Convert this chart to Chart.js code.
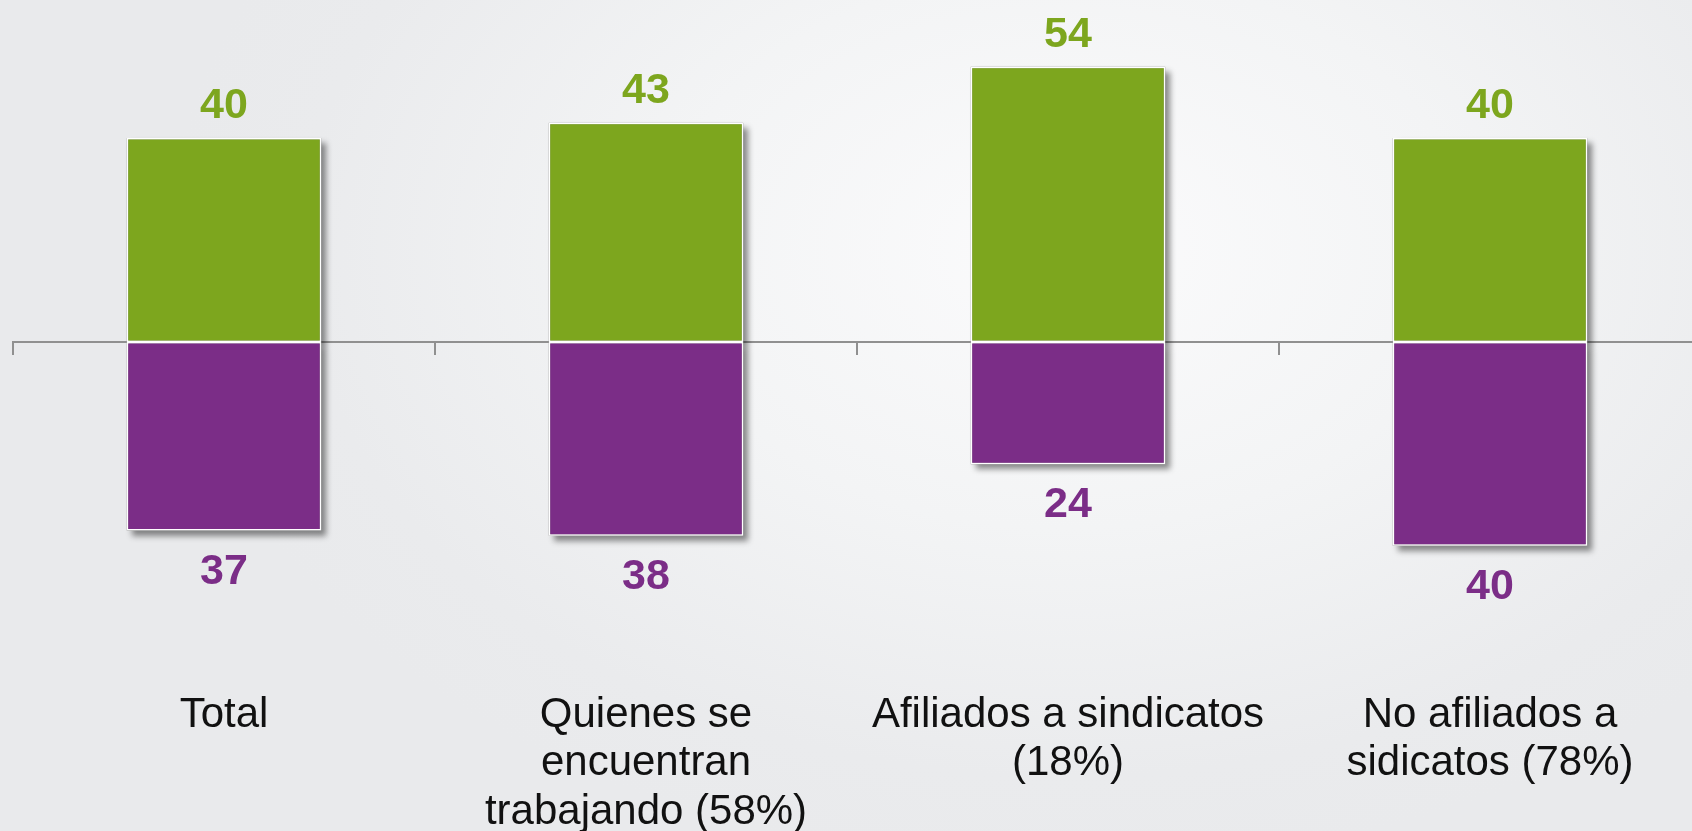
<!DOCTYPE html>
<html>
<head>
<meta charset="utf-8">
<script src="https://cdn.jsdelivr.net/npm/chart.js@4.4.0/dist/chart.umd.min.js"></script>
<style>
  html, body { margin:0; padding:0; width:1692px; height:831px; overflow:hidden; }
  body { background: radial-gradient(ellipse 900px 620px at 63% 30%, #fbfbfc 0%, #f3f4f5 45%, #eaebed 85%, #e9eaec 100%); }
  #wrap { position:absolute; left:0; top:0; width:1701px; height:869px; }
</style>
</head>
<body>
<div id="wrap"><canvas id="chart"></canvas></div>
<script>
const categories = [
  'Total',
  ['Quienes se', 'encuentran', 'trabajando (58%)'],
  ['Afiliados a sindicatos', '(18%)'],
  ['No afiliados a', 'sidicatos (78%)']
];
const arriba = [40, 43, 54, 40];   // green, above the line
const abajo = [37, 38, 24, 40];    // purple, below the line (shown as positive)

const green = '#7da61e';
const purple = '#7b2d87';

// soft drop shadow behind each bar
const barShadow = {
  id:'barShadow',
  beforeDatasetsDraw(chart){
    const ctx = chart.ctx;
    ctx.save();
    ctx.shadowColor = 'rgba(0,0,0,0.45)';
    ctx.shadowBlur = 6;
    ctx.shadowOffsetX = 5;
    ctx.shadowOffsetY = 5;
    ctx.fillStyle = '#999';
    chart.data.datasets.forEach((ds, i) => {
      chart.getDatasetMeta(i).data.forEach(el => {
        const p = el.getProps(['x','y','base','width'], true);
        const top = Math.min(p.y, p.base), h = Math.abs(p.y - p.base);
        ctx.fillRect(p.x - p.width / 2, top, p.width, h);
      });
    });
    ctx.restore();
  }
};

// value labels above green / below purple bars
const valueLabels = {
  id:'valueLabels',
  afterDatasetsDraw(chart){
    const ctx = chart.ctx;
    ctx.save();
    ctx.font = 'bold 43px "Liberation Sans", Arial, sans-serif';
    ctx.textAlign = 'center';
    ctx.textBaseline = 'alphabetic';
    chart.data.datasets.forEach((ds, i) => {
      chart.getDatasetMeta(i).data.forEach((el, j) => {
        const v = Math.abs(ds.data[j]);
        ctx.fillStyle = ds.backgroundColor;
        if (ds.data[j] >= 0) ctx.fillText(v, el.x, el.y - 20);
        else ctx.fillText(v, el.x, el.y + 53);
      });
    });
    ctx.restore();
  }
};

new Chart(document.getElementById('chart').getContext('2d'), {
  type:'bar',
  data:{
    labels: categories,
    datasets:[
      { data: arriba, backgroundColor: green, borderColor:'#ffffff', borderWidth:1.5, borderSkipped:false },
      { data: abajo.map(v => -v), backgroundColor: purple, borderColor:'#ffffff', borderWidth:1.5, borderSkipped:false }
    ]
  },
  options:{
    responsive:true,
    maintainAspectRatio:false,
    animation:false,
    layout:{ padding:{ left:13, right:0, top:0, bottom:0 } },
    datasets:{ bar:{ categoryPercentage:1, barPercentage:0.461 } },
    plugins:{ legend:{ display:false }, tooltip:{ enabled:false } },
    scales:{
      x:{
        stacked:true,
        grid:{ display:false },
        border:{ display:false },
        ticks:{
          color:'#111',
          font:{ family:'"Liberation Sans", Arial, sans-serif', size:42, lineHeight:1.16 },
          padding:32,
          maxRotation:0, autoSkip:false
        }
      },
      x2:{
        type:'category',
        position:{ y:0 },
        offset:true,
        z:1,
        grid:{ offset:true, drawOnChartArea:false, drawTicks:true, tickLength:12, color:'#909090', lineWidth:2 },
        border:{ display:true, color:'#909090', width:2 },
        ticks:{ display:false }
      },
      y:{
        stacked:true,
        display:false,
        min:-60.6,
        max:67.1
      }
    }
  },
  plugins:[barShadow, valueLabels]
});
</script>
</body>
</html>
